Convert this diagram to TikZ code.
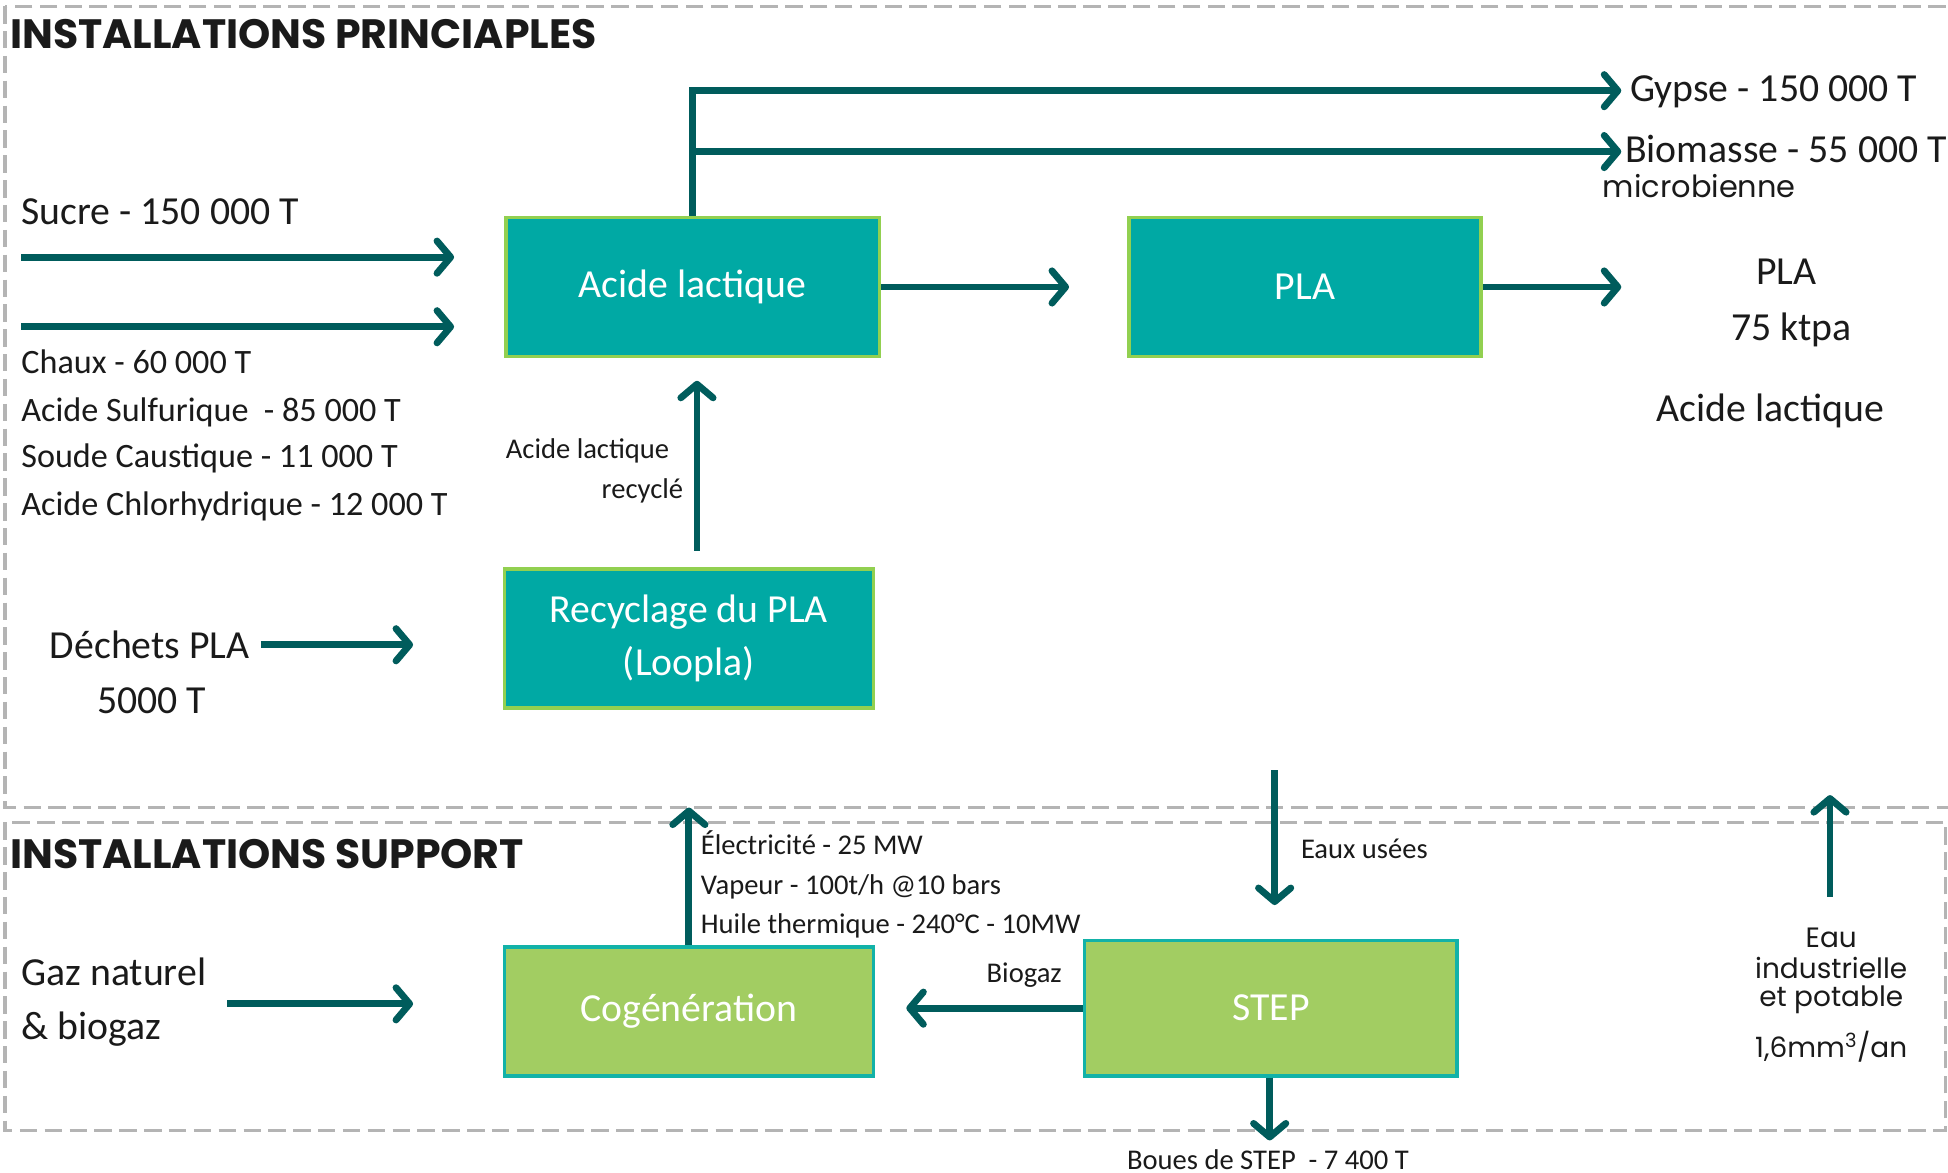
\documentclass[tikz,border=0pt]{standalone}
\usepackage{fontspec}
\setmainfont{Carlito}
\newfontfamily\montf{Poppins}
\usetikzlibrary{arrows.meta}
\definecolor{tealfill}{HTML}{00A9A4}
\definecolor{tealedge}{HTML}{92D050}
\definecolor{greenfill}{HTML}{A2CD62}
\definecolor{greenedge}{HTML}{12B2A8}
\definecolor{arrowc}{HTML}{005C5C}
\definecolor{dashc}{HTML}{B4B4B4}
\definecolor{txt}{HTML}{1A1A1A}
\begin{document}
\begin{tikzpicture}[x=1pt,y=-1pt,
  flow/.style={draw=arrowc,line width=5.5pt,-{Straight Barb[length=11pt,width=26pt,line cap=round,line join=round]}},
  dashbox/.style={draw=dashc,line width=2.5pt,dash pattern=on 14pt off 6pt},
  tbox/.style={fill=tealfill,draw=tealedge,line width=3pt,text=white,align=center,inner sep=0pt,font=\fontsize{32}{43}\selectfont},
  gbox/.style={fill=greenfill,draw=greenedge,line width=3pt,text=white,align=center,inner sep=0pt,font=\fontsize{32}{43}\selectfont},
  lbl/.style={anchor=base west,text=txt,inner sep=0pt},
  big/.style={font=\fontsize{32}{38}\selectfont},
  mid/.style={font=\fontsize{27.5}{33}\selectfont},
  small/.style={font=\fontsize{23}{28}\selectfont},
  title/.style={anchor=base west,text=txt,inner sep=0pt,font=\montf\bfseries\fontsize{33}{38}\selectfont},
  mont/.style={text=txt,inner sep=0pt,font=\montf\fontsize{22.5}{26}\selectfont}
]
\useasboundingbox (0,0) rectangle (1568,944);
\fill[white] (0,0) rectangle (1568,944);

% frames
\draw[dashbox] (4,5) rectangle (1580,650);
\draw[dashbox] (4,662) rectangle (1566,910);
\node[title] (t1) at (8,39) {INSTALLATIONS PRINCIAPLES};
\node[title] (t2) at (8,699) {INSTALLATIONS SUPPORT};

% boxes
\node[tbox,minimum width=301pt,minimum height=112pt] (al) at (557.5,231) {Acide lactique};
\node[tbox,minimum width=283pt,minimum height=112pt] (pla) at (1050.5,231) {PLA};
\node[tbox,minimum width=297pt,minimum height=112pt] (rec) at (554.5,514) {Recyclage du PLA\\(Loopla)};
\node[gbox,minimum width=297pt,minimum height=104pt] (cog) at (554.5,814) {Cogénération};
\node[gbox,minimum width=300pt,minimum height=109pt] (step) at (1023,811.5) {STEP};

% coordinates of free ends
\coordinate (gyend) at (1305,73);
\coordinate (bioend) at (1305,122);
\coordinate (in1) at (17,207);
\coordinate (in2) at (17,263);
\coordinate (plaout) at (1305,231);
\coordinate (dechstart) at (210,519);
\coordinate (gzstart) at (183,808);
\coordinate (elecend) at (554.5,650);
\coordinate (eustart) at (1026,620);
\coordinate (bouesend) at (1022,918);
\coordinate (eaustart) at (1473,722);
\coordinate (eauend) at (1473,640);

% arrows
\draw[flow] (al.north) |- (gyend);
\draw[flow] (al.north |- bioend) -- (bioend);
\draw[flow,shorten >=40pt] (in1) -- (in1 -| al.west);
\draw[flow,shorten >=40pt] (in2) -- (in2 -| al.west);
\draw[flow,shorten >=47pt] (al.east) -- (pla.west);
\draw[flow] (pla.east) -- (plaout);
\draw[flow,shorten <=13pt,shorten >=18pt] ([xshift=6.5pt]rec.north) -- ([xshift=3.5pt]al.south);
\draw[flow,shorten >=72pt] (dechstart) -- (dechstart -| rec.west);
\draw[flow,shorten >=72pt] (gzstart) -- (gzstart -| cog.west);
\draw[flow] (cog.north) -- (elecend);
\draw[flow,shorten >=25pt] (step.west) -- (step.west -| cog.east);
\draw[flow,shorten >=27pt] (eustart) -- (eustart |- step.north);
\draw[flow] ([xshift=-1pt]step.south) -- (bouesend);
\draw[flow] (eaustart) -- (eauend);

% labels
\node[lbl,big] (gy) at (1312,82) {Gypse - 150 000 T};
\node[lbl,big] (bio) at (1308,131) {Biomasse - 55 000 T};
\node[mont,anchor=base west,font=\montf\fontsize{24.5}{28}\selectfont] (micro) at (1290,159) {microbienne};
\node[lbl,big] (sucre) at (17,181) {Sucre - 150 000 T};
\node[lbl,mid] (ch1) at (17,301) {Chaux - 60 000 T};
\node[lbl,mid] (ch2) at (17,339) {Acide Sulfurique \ - 85 000 T};
\node[lbl,mid] (ch3) at (17,376) {Soude Caustique - 11 000 T};
\node[lbl,mid] (ch4) at (17,415) {Acide Chlorhydrique - 12 000 T};
\node[big,text=txt,inner sep=0pt,anchor=base] (o1) at (1438,229) {PLA};
\node[big,text=txt,inner sep=0pt,anchor=base] (o2) at (1442,274) {75 ktpa};
\node[big,text=txt,inner sep=0pt,anchor=base] (o3) at (1425,339) {Acide lactique};
\node[lbl,small] (r1) at (407,369) {Acide lactique};
\node[small,text=txt,inner sep=0pt,anchor=base east] (r2) at (550,401) {recyclé};
\node[lbl,big] (d1) at (40,530) {Déchets PLA};
\node[lbl,big] (d2) at (78,574) {5000 T};
\node[lbl,big] (g1) at (17,793) {Gaz naturel};
\node[lbl,big] (g2) at (17,837) {\& biogaz};
\node[lbl,small] (e1) at (564,688) {Électricité - 25 MW};
\node[lbl,small] (e2) at (564,720) {Vapeur - 100t/h @10 bars};
\node[lbl,small] (e3) at (564,751) {Huile thermique - 240°C - 10MW};
\node[lbl,small] (bg) at (794,791) {Biogaz};
\node[lbl,small] (eu) at (1047,691) {Eaux usées};
\node[lbl,small] (bo) at (907,941) {Boues de STEP \ - 7 400 T};
\node[mont,anchor=base] (w1) at (1474,763) {Eau};
\node[mont,anchor=base] (w2) at (1474,788) {industrielle};
\node[mont,anchor=base] (w3) at (1474,810) {et potable};
\node[mont,anchor=base] (w4) at (1474,851) {1,6mm\textsuperscript{3}/an};
\end{tikzpicture}
\end{document}
